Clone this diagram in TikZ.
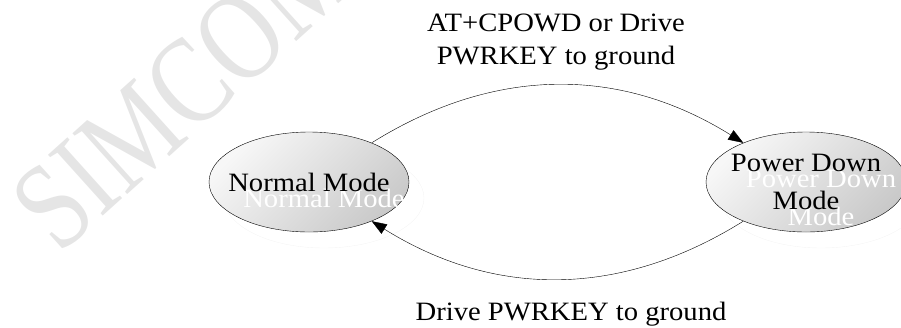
\documentclass[tikz,border=0pt]{standalone}
\usepackage{fontspec}
\setmainfont{Liberation Serif}[FakeStretch=1.08]
\newfontfamily\wmfont{Liberation Serif}[FakeStretch=0.8]
\usetikzlibrary{shapes.geometric,arrows.meta,calc}

\begin{document}
\begin{tikzpicture}[x=1pt,y=-1pt,
  mode/.style={ellipse,draw=black,inner sep=0pt,minimum width=200pt,minimum height=100pt,
    top color=gray!6,bottom color=gray!42,shading angle=45},
  modeshadow/.style={ellipse,draw=gray!8,inner sep=0pt,minimum width=200pt,minimum height=100pt},
  modetext/.style={align=center,font=\fontsize{26.5}{38}\selectfont,inner sep=0pt},
  whitetext/.style={modetext,text=white},
  edgelabel/.style={align=center,font=\fontsize{26.5}{33}\selectfont,inner sep=0pt},
  trans/.style={-{Triangle[length=15pt,width=11pt]},thin}]
\useasboundingbox (0,0) rectangle (901,327);

% watermark
\node[rotate=42,anchor=base west,inner sep=0pt,text=gray!20,
  font=\wmfont\fontsize{125}{125}\selectfont] (wmark) at (59,256) {SIMCOM};

% states
\node[modeshadow] (normalsh) at (324,198) {};
\node[modeshadow] (pdownsh) at (821,198) {};
\node[mode] (normal) at (309,182) {};
\node[mode] (pdown) at (806,182) {};
\node[whitetext] (normalwt) at ($(normal)+(15,16)$) {Normal Mode};
\node[modetext] (normaltx) at (normal) {Normal Mode};
\node[whitetext] (pdownwt) at ($(pdown)+(15,16)$) {Power Down\\Mode};
\node[modetext] (pdowntx) at (pdown) {Power Down\\Mode};

% transitions
\draw[trans] (normal) to[bend left=32] (pdown);
\draw[trans] (pdown) to[bend left=32] (normal);

\node[edgelabel] (offlbl) at (556,42) {AT+CPOWD or Drive\\PWRKEY to ground};
\node[edgelabel,anchor=base] (onlbl) at (571,320) {Drive PWRKEY to ground};
\end{tikzpicture}
\end{document}
